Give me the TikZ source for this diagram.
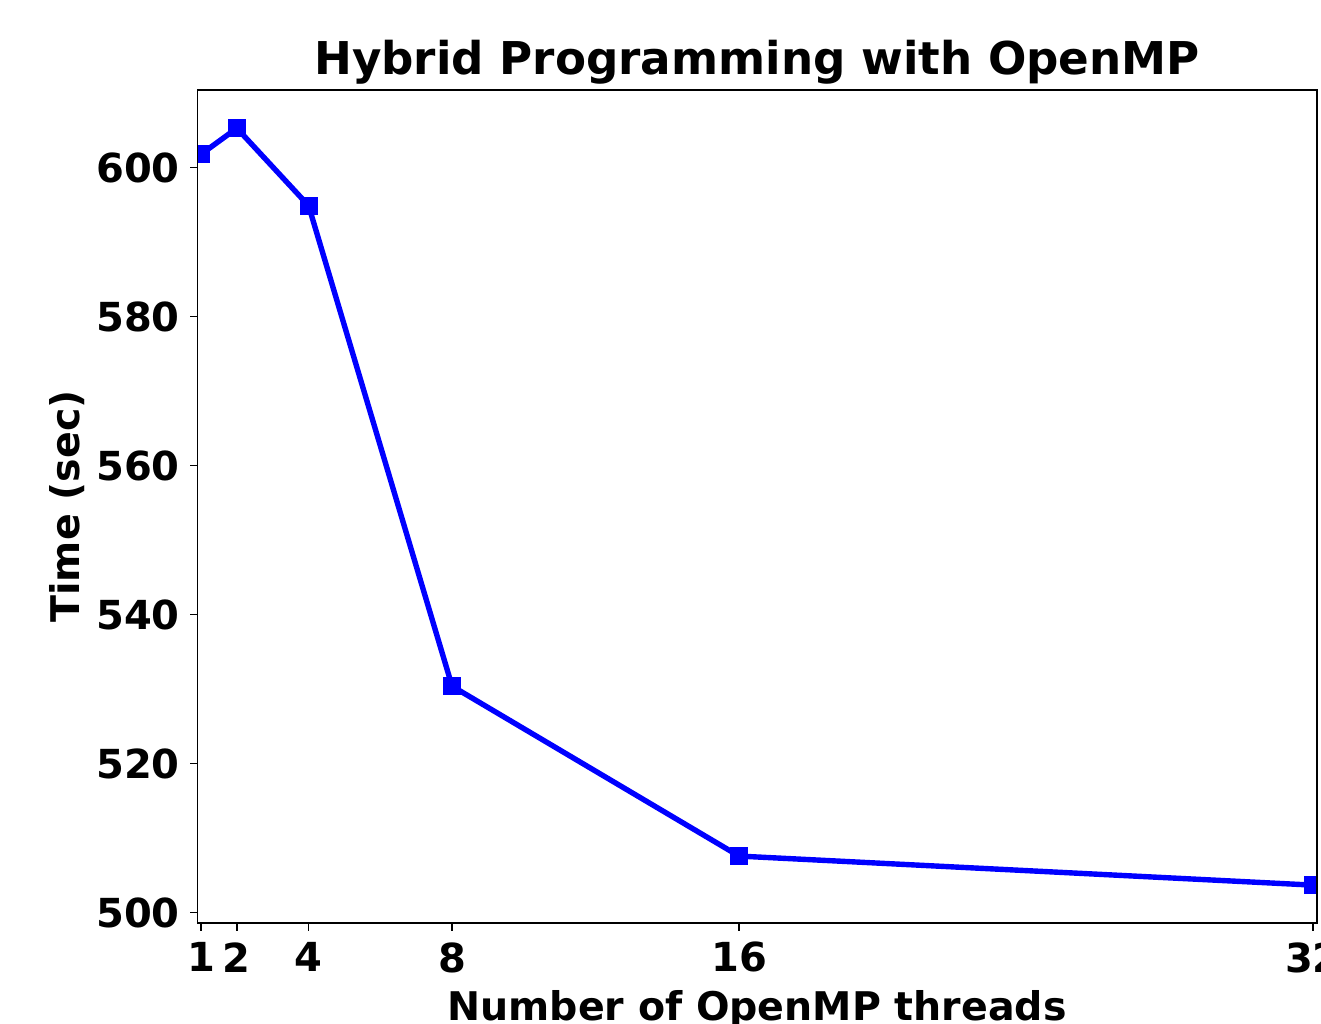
\documentclass[tikz,border=0pt]{standalone}
\usepackage{fontspec}
\setmainfont{DejaVu Sans}
\usetikzlibrary{positioning}
\tikzset{%
  frame/.style={draw=black,line width=1.6pt},
  tick/.style={draw=black,line width=1.6pt},
  tick label/.style={
    inner sep=0pt,
    font=\fontsize{40}{48}\selectfont\bfseries
  },
  axis label/.style={
    inner sep=0pt,
    font=\fontsize{39.5}{47}\selectfont\bfseries
  },
  timing line/.style={draw=blue,line width=5.4pt,line join=round},
  timing mark/.style={
    rectangle,
    fill=blue,
    inner sep=0pt,
    minimum size=18pt
  },
}

\begin{document}
\begin{tikzpicture}[x=1pt,y=1pt,>=latex]
        \useasboundingbox (0,0) rectangle (1321,1024);

        % title and axis labels
        \node[axis label,font=\fontsize{45.2}{54}\selectfont\bfseries,anchor=base] (title) at (757,949) {Hybrid Programming with OpenMP};
        \node[axis label,anchor=base] (xlabel) at (757,3) {Number of OpenMP threads};
        \node[axis label,rotate=90,anchor=south] (ylabel) at (85,517.5) {Time (sec)};

        % data space: threads along x, seconds along y
        \begin{scope}[shift={(165.13pt,-3613.7pt)},x=35.87pt,y=7.45pt]
        \coordinate (ll) at (0.902,498.6);
        \coordinate (ur) at (32.11,610.4);

        \foreach \t/\v in {1/601.8,2/605.3,4/594.9,8/530.4,16/507.6,32/503.7}
            \coordinate (p\t) at (\t,\v);

        \begin{scope}
            \clip (ll) rectangle (ur);
            \draw[timing line] (p1) -- (p2) -- (p4) -- (p8) -- (p16) -- (p32);
            \foreach \t in {1,2,4,8,16,32}
                \node[timing mark] (m\t) at (p\t) {};
        \end{scope}

        \draw[frame] (ll) rectangle (ur);

        % ticks
        \foreach \v in {500,520,...,600} {
            \coordinate (yt\v) at (0.902,\v);
            \draw[tick] (yt\v) -- ++(-7.5pt,0);
            \node[tick label,anchor=east] (ytl\v) at ([xshift=-17.5pt]yt\v) {\v};
        }
        \foreach \t in {1,2,4,8,16,32} {
            \coordinate (xt\t) at (\t,498.6);
            \draw[tick] (xt\t) -- ++(0,-7.5pt);
            \node[tick label,anchor=north] (xtl\t) at ([yshift=-19pt]xt\t) {\t};
        }
        \end{scope}
    \end{tikzpicture}
\end{document}
